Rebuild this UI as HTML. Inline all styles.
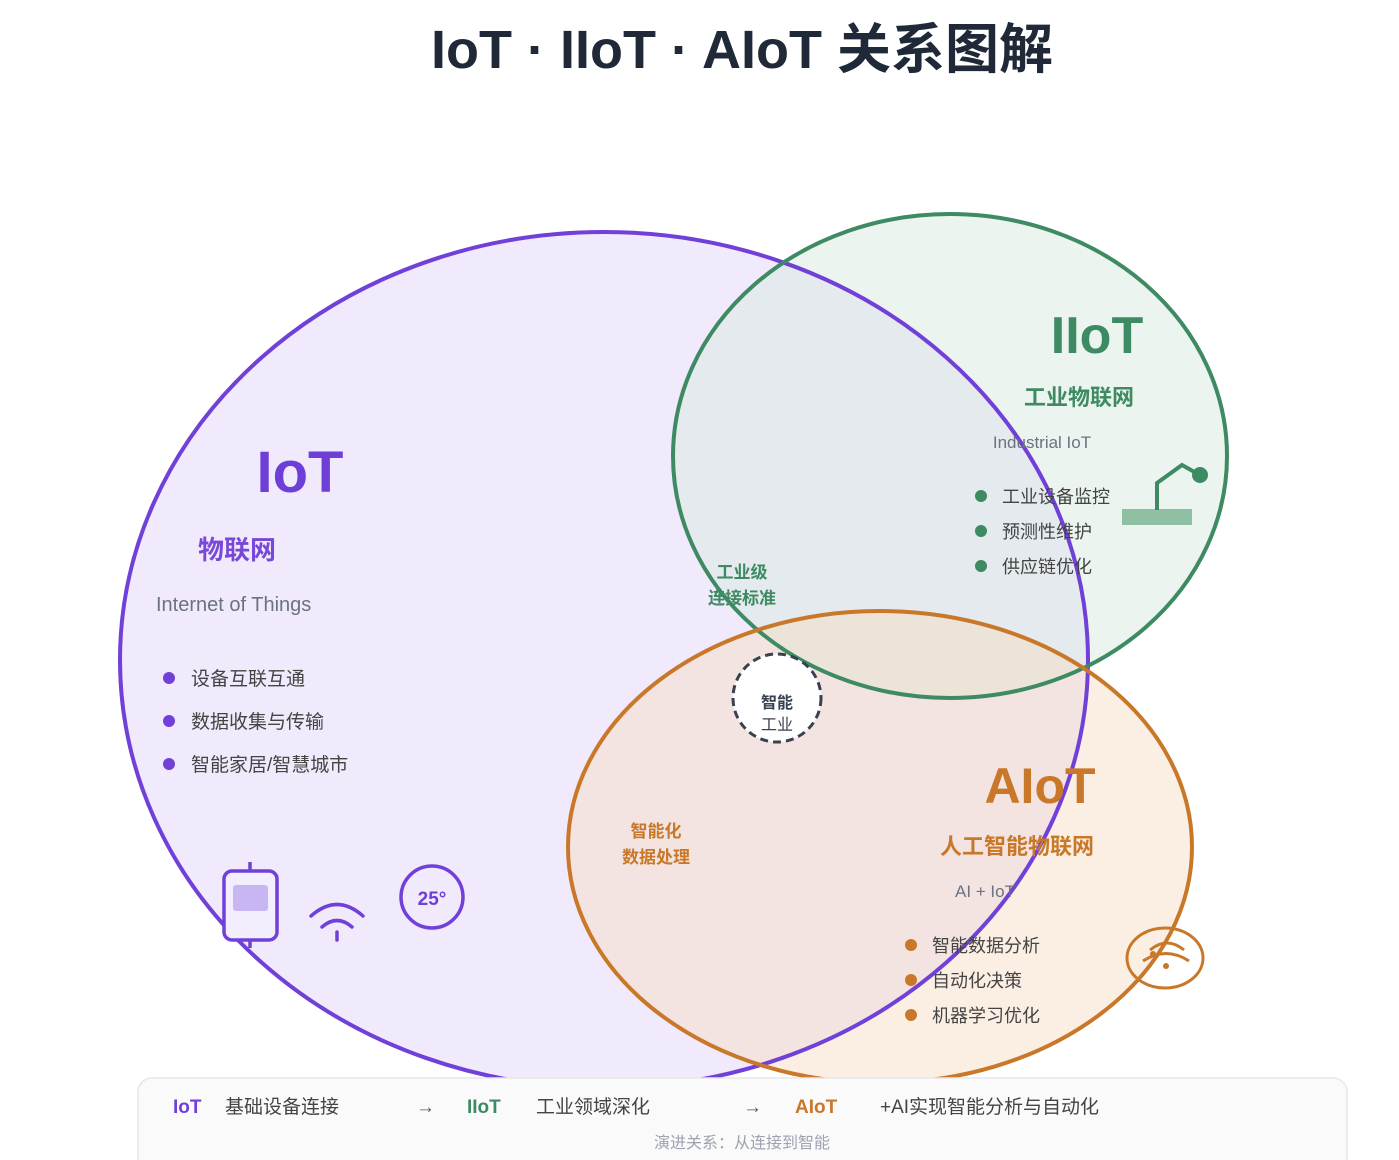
<!DOCTYPE html>
<html><head><meta charset="utf-8"><style>
html,body{margin:0;padding:0;background:#fff;}
svg{display:block;font-family:"Liberation Sans","Noto Sans CJK SC",sans-serif;}
</style></head><body>
<svg width="1399" height="1160" viewBox="0 0 1399 1160" xmlns="http://www.w3.org/2000/svg">
<defs>
<linearGradient id="gp" x1="0" y1="0" x2="1" y2="1"><stop offset="0" stop-color="#f1ecfc"/><stop offset="1" stop-color="#ece6fb"/></linearGradient>
</defs>
<rect width="1399" height="1160" fill="#fff"/>
<text x="742" y="68" text-anchor="middle" font-size="54" font-weight="bold" fill="#1f2937">IoT · IIoT · AIoT 关系图解</text>

<ellipse cx="604" cy="660" rx="484" ry="428" fill="#ede6fb" fill-opacity="0.85"/>
<ellipse cx="950" cy="456" rx="277" ry="242" fill="#d7eadd" fill-opacity="0.5"/>
<ellipse cx="880" cy="847" rx="312" ry="236" fill="#f6dcc2" fill-opacity="0.45"/>
<ellipse cx="604" cy="660" rx="484" ry="428" fill="none" stroke="#7040d8" stroke-width="4"/>
<ellipse cx="950" cy="456" rx="277" ry="242" fill="none" stroke="#3d8a63" stroke-width="4"/>
<ellipse cx="880" cy="847" rx="312" ry="236" fill="none" stroke="#c9782a" stroke-width="4"/>

<!-- IoT -->
<text x="300" y="492" text-anchor="middle" font-size="58" font-weight="bold" fill="#6d3fd6">IoT</text>
<text x="237" y="559" text-anchor="middle" font-size="26" font-weight="bold" fill="#7a48d8">物联网</text>
<text x="156" y="611" font-size="20" fill="#6b7280">Internet of Things</text>
<g fill="#7040d8"><circle cx="169" cy="678" r="6"/><circle cx="169" cy="721" r="6"/><circle cx="169" cy="764" r="6"/></g>
<g font-size="19" fill="#444">
<text x="191" y="685">设备互联互通</text><text x="191" y="728">数据收集与传输</text><text x="191" y="771">智能家居/智慧城市</text></g>
<g stroke="#7040d8" stroke-width="3.5" fill="none">
<rect x="224" y="871" width="53" height="69" rx="8" fill="#f3eefd"/>
<line x1="250" y1="862" x2="250" y2="871"/><line x1="250" y1="940" x2="250" y2="948"/>
<path d="M311 916 Q337 893 363 916" stroke-linecap="round"/>
<path d="M322 927 Q337 914 352 927" stroke-linecap="round"/>
<line x1="337" y1="932" x2="337" y2="940" stroke-linecap="round"/>
<circle cx="432" cy="897" r="31"/>
</g>
<rect x="233" y="885" width="35" height="26" rx="3" fill="#c8b6f3"/>
<text x="432" y="905" text-anchor="middle" font-size="19" font-weight="bold" fill="#6d3fd6">25°</text>

<!-- IIoT -->
<text x="1097" y="353" text-anchor="middle" font-size="52" font-weight="bold" fill="#3d8a63">IIoT</text>
<text x="1079" y="405" text-anchor="middle" font-size="22" font-weight="bold" fill="#3d8a63">工业物联网</text>
<text x="1042" y="448" text-anchor="middle" font-size="17" fill="#6b7280">Industrial IoT</text>
<g fill="#3d8a63"><circle cx="981" cy="496" r="6"/><circle cx="981" cy="531" r="6"/><circle cx="981" cy="566" r="6"/></g>
<g font-size="18" fill="#444">
<text x="1002" y="503">工业设备监控</text><text x="1002" y="538">预测性维护</text><text x="1002" y="573">供应链优化</text></g>
<rect x="1122" y="509" width="70" height="16" fill="#8fc0a3"/>
<path d="M1157 510 L1157 483 L1182 465 L1198 474" fill="none" stroke="#3d8a63" stroke-width="4"/>
<circle cx="1200" cy="475" r="8" fill="#3d8a63"/>

<!-- AIoT -->
<text x="1040" y="803" text-anchor="middle" font-size="50" font-weight="bold" fill="#c9782a">AIoT</text>
<text x="1017" y="854" text-anchor="middle" font-size="22" font-weight="bold" fill="#c9782a">人工智能物联网</text>
<text x="985" y="897" text-anchor="middle" font-size="17" fill="#6b7280">AI + IoT</text>
<g fill="#c9782a"><circle cx="911" cy="945" r="6"/><circle cx="911" cy="980" r="6"/><circle cx="911" cy="1015" r="6"/></g>
<g font-size="18" fill="#444">
<text x="932" y="952">智能数据分析</text><text x="932" y="987">自动化决策</text><text x="932" y="1022">机器学习优化</text></g>
<g stroke="#c9782a" stroke-width="3" fill="none">
<ellipse cx="1165" cy="958" rx="38" ry="30"/>
<path d="M1150 950 Q1167 936 1184 950"/><path d="M1143 961 Q1166 946 1189 961"/>
</g>
<circle cx="1153" cy="954" r="3" fill="#c9782a"/><circle cx="1166" cy="966" r="3" fill="#c9782a"/>

<!-- intersections -->
<g font-size="17" font-weight="bold" text-anchor="middle">
<text x="742" y="578" fill="#3d8a63">工业级</text><text x="742" y="604" fill="#3d8a63">连接标准</text>
<text x="656" y="837" fill="#c9782a">智能化</text><text x="656" y="863" fill="#c9782a">数据处理</text>
</g>
<circle cx="777" cy="698" r="44" fill="#fff" stroke="#374151" stroke-width="3" stroke-dasharray="8 5"/>
<text x="777" y="708" text-anchor="middle" font-size="16" font-weight="bold" fill="#374151">智能</text>
<text x="777" y="730" text-anchor="middle" font-size="16" fill="#374151">工业</text>

<!-- footer -->
<rect x="138" y="1078" width="1209" height="100" rx="14" fill="#fafafa" stroke="#e5e7eb" stroke-width="1.5"/>
<g font-size="19">
<text x="173" y="1113" font-weight="bold" fill="#7040d8">IoT</text>
<text x="225" y="1113" fill="#444">基础设备连接</text>
<text x="416" y="1113" fill="#555">→</text>
<text x="467" y="1113" font-weight="bold" fill="#3d8a63">IIoT</text>
<text x="536" y="1113" fill="#444">工业领域深化</text>
<text x="743" y="1113" fill="#555">→</text>
<text x="795" y="1113" font-weight="bold" fill="#c9782a">AIoT</text>
<text x="880" y="1113" fill="#444">+AI实现智能分析与自动化</text>
</g>
<text x="742" y="1148" text-anchor="middle" font-size="16" fill="#9ca3af">演进关系：从连接到智能</text>
</svg>
</body></html>
